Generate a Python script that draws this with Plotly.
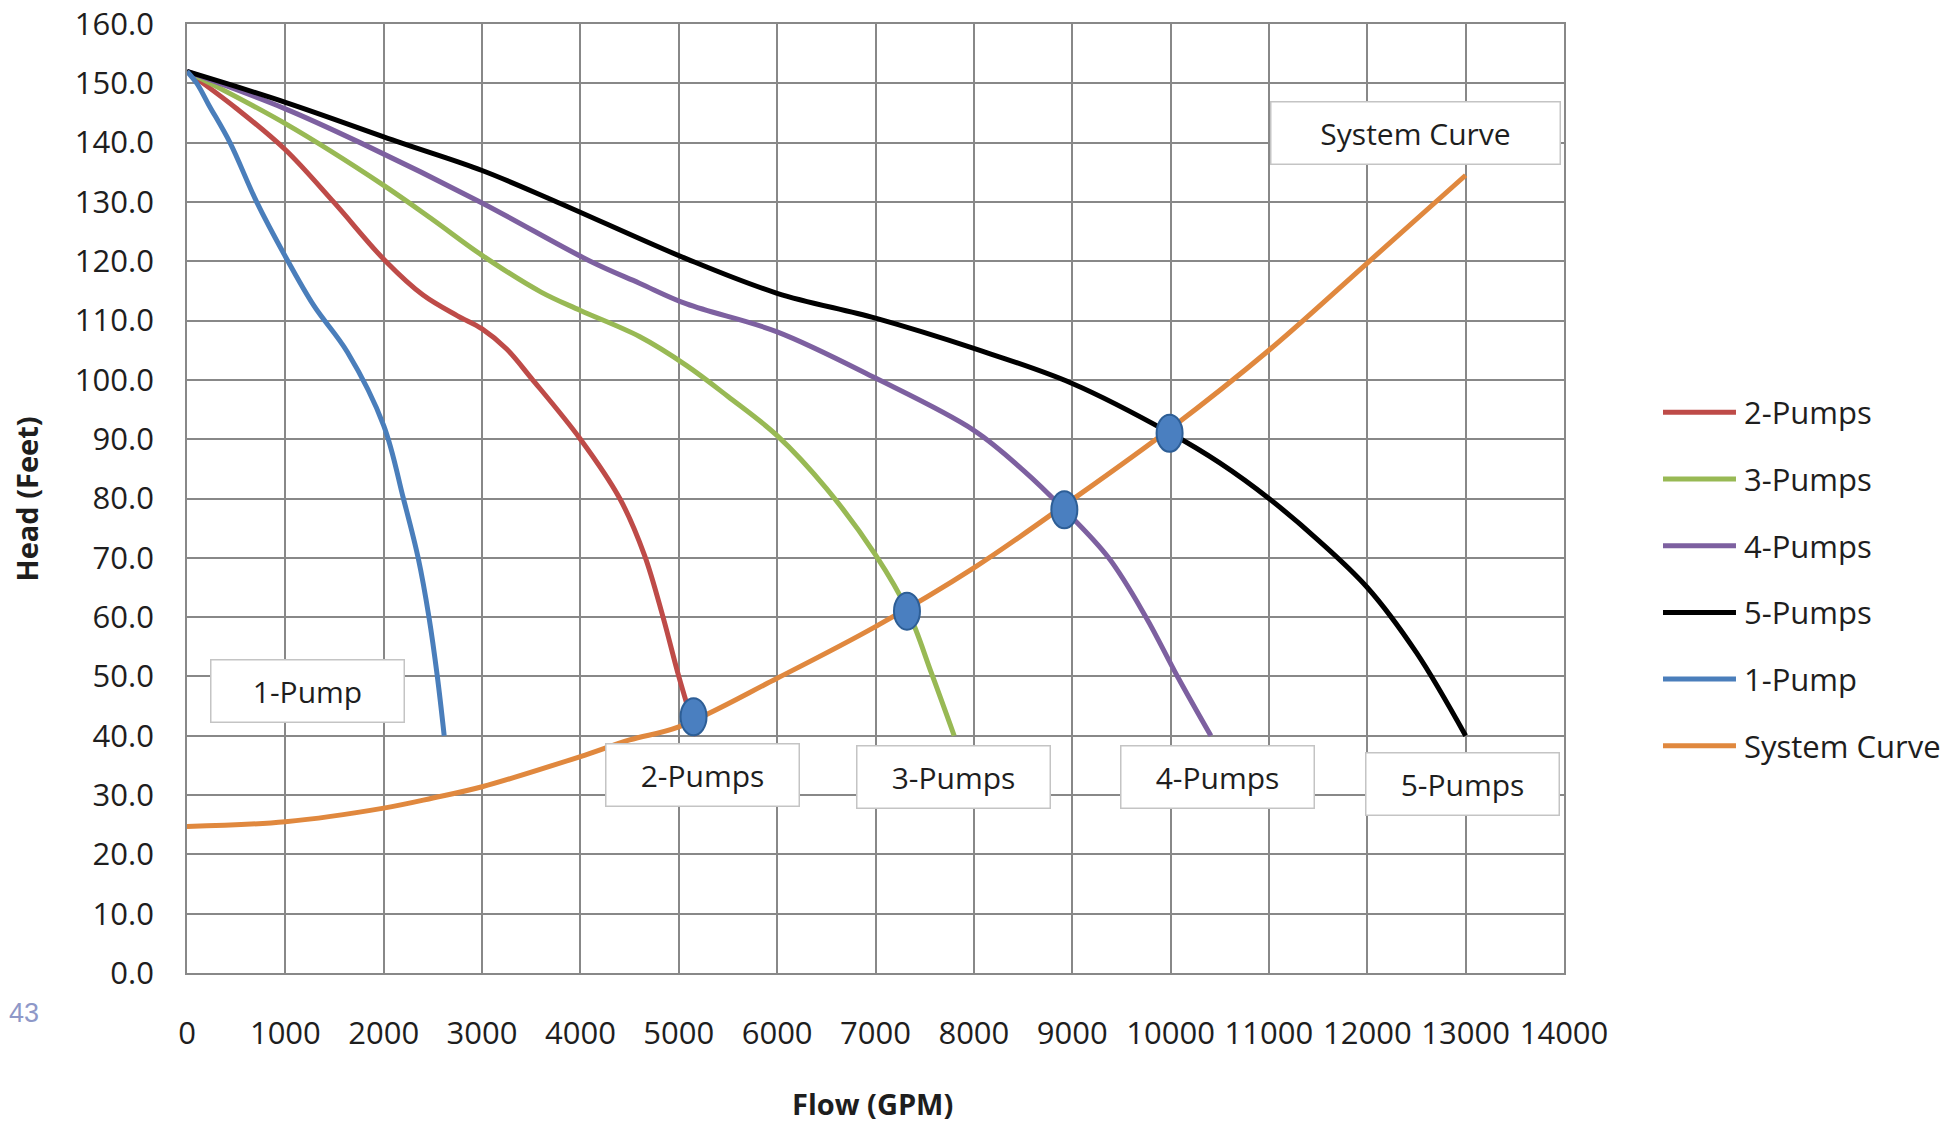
import plotly.graph_objects as go

# Pump performance curves (flow in GPM, head in feet)
pump1_flow = [0, 100, 220, 437, 708, 1000, 1290, 1630, 2000, 2200, 2350, 2460, 2545, 2615]
pump1_head = [152, 150, 146.4, 140, 130, 120.8, 112.5, 104.7, 92.3, 80, 70, 60, 50, 40]

pump2_flow = [0, 500, 1000, 1490, 2020, 2400, 2750, 3000, 3250, 3500, 4000, 4400, 4650, 4840, 5000, 5180]
pump2_head = [152, 145.8, 138.8, 130, 120, 114.3, 110.8, 108.6, 105.2, 100.3, 90, 80, 70.5, 60, 50, 40]

pump3_flow = [0, 1000, 2000, 2500, 3000, 3600, 4000, 4600, 5080, 5500, 6000, 6500, 7000, 7330, 7570, 7800]
pump3_head = [152, 143.2, 132.8, 127, 121, 114.8, 111.7, 107.3, 102.4, 97.2, 90.6, 81.7, 70.5, 61, 50.5, 40]

pump4_flow = [0, 1000, 1760, 2980, 4100, 4600, 5080, 6000, 7000, 8000, 8500, 8920, 9370, 9750, 10070, 10410]
pump4_head = [152, 145.7, 140, 130, 120, 116.3, 112.8, 108.1, 100.3, 91.5, 84.8, 78.1, 70, 60, 50, 40]

pump5_flow = [0, 1000, 2170, 3000, 3760, 5080, 6000, 7000, 8000, 9000, 10000, 10500, 11000, 11500, 12000, 12500, 13000]
pump5_head = [152, 146.8, 140, 135.3, 130, 120.4, 114.6, 110.4, 105.3, 99.4, 91, 86, 80, 73, 65, 54, 40]

system_flow = [0, 1000, 2000, 2500, 3000, 4000, 4500, 5000, 6000, 7000, 8000, 9000, 10000, 11000, 12000, 13000]
system_head = [24.7, 25.5, 27.8, 29.5, 31.4, 36.5, 39.3, 41.5, 49.7, 58.4, 68.3, 79.8, 91.8, 105, 119.7, 134.5]

# Operating points where the pump curves meet the system curve
op_flow = [5150, 7320, 8920, 9990]
op_head = [43.2, 61, 78.1, 91]

# Curve label boxes: text, flow, head
label_text = ["1-Pump", "2-Pumps", "3-Pumps", "4-Pumps", "5-Pumps", "System Curve"]
label_flow = [1225, 5246, 7788, 10477, 12968, 12490]
label_head = [47.5, 33.4, 33.0, 33.0, 31.9, 141.6]

x_ticks = list(range(0, 14001, 1000))
y_ticks = [i * 10 for i in range(17)]

FONT = "Open Sans"
TXT = "#1e1e1e"
GRID = "#888888"

series = [
    ("2-Pumps", pump2_flow, pump2_head, "#be4b48"),
    ("3-Pumps", pump3_flow, pump3_head, "#98b954"),
    ("4-Pumps", pump4_flow, pump4_head, "#7d60a0"),
    ("5-Pumps", pump5_flow, pump5_head, "#000000"),
    ("1-Pump", pump1_flow, pump1_head, "#4a7ebb"),
    ("System Curve", system_flow, system_head, "#e0883e"),
]

fig = go.Figure()
for name, xs, ys, color in series:
    fig.add_trace(go.Scatter(
        x=xs, y=ys, name=name, mode="lines",
        line=dict(color=color, width=5, shape="spline", smoothing=1.0),
        showlegend=False, hoverinfo="skip",
    ))

shapes = []
# Operating-point markers: small upright ellipses centred on each point
for fx, hy in zip(op_flow, op_head):
    shapes.append(dict(
        type="circle", xref="x", yref="y", layer="above",
        xsizemode="pixel", ysizemode="pixel",
        xanchor=fx, yanchor=hy,
        x0=-13, x1=13, y0=-18.5, y1=18.5,
        fillcolor="#4a7fc0", line=dict(color="#2d5e96", width=2),
    ))

# Legend swatches and names on the right
leg_x0, leg_x1, leg_tx = 1.0719, 1.1249, 1.1293
leg_y0, leg_step = 0.5908, 0.07028
annotations = []
for i, (name, _, _, color) in enumerate(series):
    yy = leg_y0 - i * leg_step
    shapes.append(dict(type="line", xref="paper", yref="paper",
                       x0=leg_x0, x1=leg_x1, y0=yy, y1=yy,
                       line=dict(color=color, width=5)))
    annotations.append(dict(xref="paper", yref="paper", x=leg_tx, y=yy,
                            xanchor="left", yanchor="middle", showarrow=False,
                            text=name, font=dict(family=FONT, size=31, color=TXT)))

# Boxed curve labels
for t, fx, hy in zip(label_text, label_flow, label_head):
    annotations.append(dict(
        x=fx, y=hy, xref="x", yref="y", text=t, showarrow=False,
        xanchor="center", yanchor="middle",
        width=288 if t == "System Curve" else 192, height=61,
        bgcolor="white", bordercolor="#c4c4c4", borderwidth=1.5, borderpad=0,
        font=dict(family=FONT, size=30, color=TXT),
    ))

# Axis titles
annotations.append(dict(xref="paper", yref="paper", x=-0.1162, y=0.5,
                        text="<b>Head (Feet)</b>", textangle=-90, showarrow=False,
                        xanchor="center", yanchor="middle",
                        font=dict(family=FONT, size=29, color=TXT)))
annotations.append(dict(xref="paper", yref="paper", x=0.498, y=-0.137,
                        text="<b>Flow (GPM)</b>", showarrow=False,
                        xanchor="center", yanchor="middle",
                        font=dict(family=FONT, size=29, color=TXT)))
annotations.append(dict(xref="paper", yref="paper", x=-0.1307, y=-0.0421,
                        text="43", showarrow=False, xanchor="left", yanchor="middle",
                        font=dict(family="Liberation Sans", size=27, color="#8e98c8")))

fig.update_layout(
    width=1951, height=1125,
    margin=dict(l=187, r=387, t=24, b=152, autoexpand=False),
    paper_bgcolor="white", plot_bgcolor="white",
    shapes=shapes, annotations=annotations,
    showlegend=False,
    xaxis=dict(
        range=[0, 14000], tickvals=x_ticks, tickformat="d", automargin=False,
        showgrid=True, gridcolor=GRID, gridwidth=1.8,
        showline=True, linecolor=GRID, linewidth=1.8, mirror=True,
        zeroline=False, ticks="", ticklabelstandoff=32,
        tickfont=dict(family=FONT, size=31, color=TXT),
    ),
    yaxis=dict(
        range=[0, 160], tickvals=y_ticks, tickformat=".1f", automargin=False,
        showgrid=True, gridcolor=GRID, gridwidth=1.8,
        showline=True, linecolor=GRID, linewidth=1.8, mirror=True,
        zeroline=False, ticks="", ticklabelstandoff=25,
        tickfont=dict(family=FONT, size=31, color=TXT),
    ),
)

fig.write_html("out.html")
